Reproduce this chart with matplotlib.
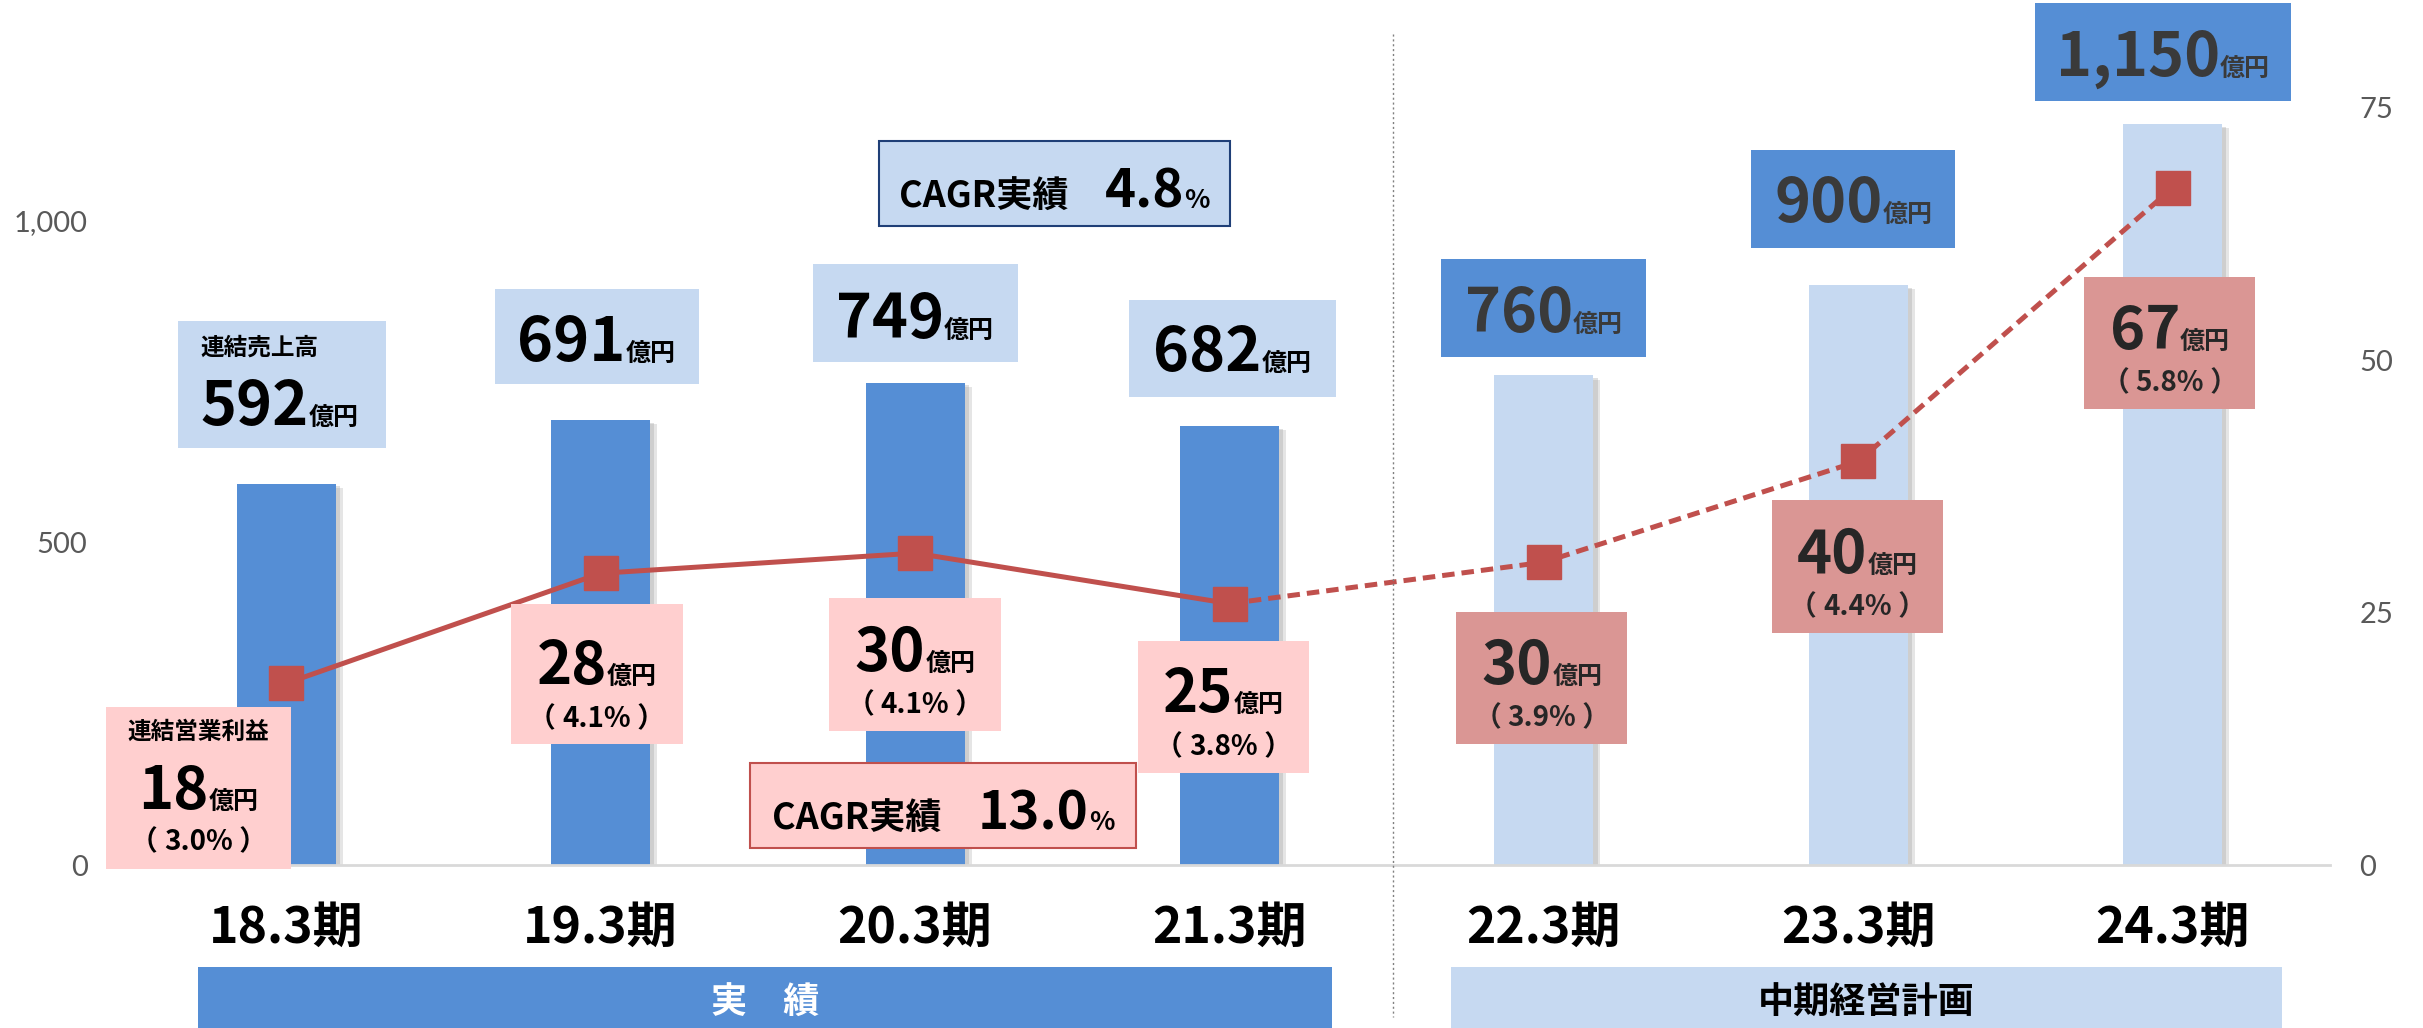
import matplotlib
matplotlib.use("Agg")
import matplotlib.pyplot as plt
import matplotlib.patheffects as pe
from matplotlib.patches import Rectangle
from matplotlib.lines import Line2D

plt.rcParams['font.family'] = ['Noto Sans CJK JP', 'DejaVu Sans']

# data
periods = ["18.3期", "19.3期", "20.3期", "21.3期", "22.3期", "23.3期", "24.3期"]
sales = [592, 691, 749, 682, 760, 900, 1150]
sales_text = ["592", "691", "749", "682", "760", "900", "1,150"]
profit = [18.0, 28.9, 30.9, 25.9, 30.0, 40.0, 67.1]
profit_text = ["18", "28", "30", "25", "30", "40", "67"]
margin_text = ["3.0%", "4.1%", "4.1%", "3.8%", "3.9%", "4.4%", "5.8%"]
n_actual = 4
cagr_sales = "4.8"
cagr_profit = "13.0"
left_ticks = [0, 500, 1000]
left_tick_text = ["0", "500", "1,000"]
right_ticks = [0, 25, 50, 75]

# label box layout (pixels, from top of image)
sales_top = [321, 289, 264, 300, 259, 150, 3]
sales_bot = [448, 384, 362, 397, 357, 248, 101]
sales_base = [425, 361, 338, 371, 332, 222, 76]
sales_w = [208, 204, 205, 207, 205, 204, 256]
sales_dx = [-4, -4, 0, 3, 0, -5, -10]
profit_top = [707, 604, 598, 641, 612, 500, 277]
profit_bot = [869, 744, 731, 773, 744, 633, 409]
profit_base = [809, 684, 671, 712, 684, 573, 349]
pct_mid = [842, 719, 705, 747, 718, 607, 383]
profit_w = [185, 172, 172, 171, 171, 171, 171]
profit_dx = [-88, -4, 0, -6, -2, -1, -3]

W, H = 2423, 1028
BLUE = "#558ED5"
PALE = "#C6D9F1"
RED = "#C0504D"
PINK = "#FFCFCF"
ROSE = "#DA9694"
DARK = "#3A3A3A"

fig = plt.figure(figsize=(W / 100, H / 100), dpi=100)
ax = fig.add_axes([107 / W, 163 / H, (2330 - 107) / W, 865 / H])
ax2 = ax.twinx()

x = list(range(len(periods)))
cols = [BLUE if i < n_actual else PALE for i in x]
bars = ax.bar(x, sales, width=0.315, color=cols, zorder=2)
for b in bars:
    b.set_path_effects([pe.SimplePatchShadow(offset=(5, -3), shadow_rgbFace="#9a9a9a", alpha=0.25),
                        pe.SimplePatchShadow(offset=(3, -2), shadow_rgbFace="#9a9a9a", alpha=0.3),
                        pe.Normal()])
ax.set_xlim(-0.57, 6.5)
ax.set_ylim(0, 1343)
ax2.set_ylim(0, 85.7)

ax2.plot(x[:n_actual], profit[:n_actual], color=RED, lw=3.6, solid_capstyle="butt")
ax2.plot(x[n_actual - 1:], profit[n_actual - 1:], color=RED, lw=3.6, dashes=(2.5, 1.4))
ax2.plot(x, profit, ls="none", marker="s", ms=24, color=RED)

for a in (ax, ax2):
    for s in a.spines.values():
        s.set_visible(False)
ax.spines["bottom"].set_visible(True)
ax.spines["bottom"].set_color("#D9D9D9")
ax.spines["bottom"].set_linewidth(2)

ax.set_yticks(left_ticks, left_tick_text)
ax2.set_yticks(right_ticks, [str(v) for v in right_ticks])
ax.tick_params(axis="y", length=0, pad=14, labelsize=21, labelcolor="#595959")
ax2.tick_params(axis="y", length=0, pad=21, labelsize=21, labelcolor="#595959")
for lbl in ax.get_yticklabels() + ax2.get_yticklabels():
    lbl.set_fontfamily(["Lato", "DejaVu Sans"])

ax.set_xticks(x, periods, fontsize=36, fontweight="bold")
ax.tick_params(axis="x", length=0, pad=27)

renderer = fig.canvas.get_renderer()


def cx_of(i):
    return ax.transData.transform((i, 0))[0]


def put_box(cx, top, bot, w, fc, ec="none", lw=0):
    fig.add_artist(Rectangle(((cx - w / 2) / W, 1 - bot / H), w / W, (bot - top) / H,
                             transform=fig.transFigure, fc=fc, ec=ec, lw=lw, zorder=5))


def put_runs(x0, base, parts, ha="center", va="baseline"):
    ts = [fig.text(0, 0, s, fontsize=fs, color=c, fontweight="bold", va=va, ha="left", zorder=6)
          for s, fs, c in parts]
    ws = [t.get_window_extent(renderer).width for t in ts]
    xx = x0 - sum(ws) / 2 if ha == "center" else x0
    for t, w in zip(ts, ws):
        t.set_position((xx / W, 1 - base / H))
        xx += w


# sales boxes
for i in x:
    fc = PALE if i < n_actual else BLUE
    tc = "black" if i < n_actual else DARK
    cx = cx_of(i) + sales_dx[i]
    put_box(cx, sales_top[i], sales_bot[i], sales_w[i], fc)
    parts = [(sales_text[i], 44, tc), ("億円", 18, tc)]
    if i == 0:
        left = cx - sales_w[i] / 2 + 22
        put_runs(left, 348, [("連結売上高", 17, tc)], ha="left", va="center")
        put_runs(left, sales_base[i], parts, ha="left")
    else:
        put_runs(cx, sales_base[i], parts)

# profit boxes
for i in x:
    fc = PINK if i < n_actual else ROSE
    tc = "black" if i < n_actual else "#262626"
    cx = cx_of(i) + profit_dx[i]
    put_box(cx, profit_top[i], profit_bot[i], profit_w[i], fc)
    if i == 0:
        put_runs(cx, 732, [("連結営業利益", 17, tc)], va="center")
    put_runs(cx, profit_base[i], [(profit_text[i], 43, tc), ("億円", 18, tc)])
    put_runs(cx, pct_mid[i], [("（ ", 20, tc), (margin_text[i], 20, tc), (" ）", 20, tc)], va="center")

# CAGR boxes
cx = cx_of(2.443)
put_box(cx, 141, 226, 351, PALE, ec="#1F3F77", lw=1.5)
put_runs(cx, 208, [("CAGR実績　", 26, "black"), (cagr_sales, 38, "black"), ("%", 19, "black")])
cx = cx_of(2.09)
put_box(cx, 763, 848, 386, PINK, ec=RED, lw=1.5)
put_runs(cx, 830, [("CAGR実績　", 26, "black"), (cagr_profit, 38, "black"), ("%", 19, "black")])

# divider between actual and plan
xd = cx_of(3.52) / W
fig.add_artist(Line2D([xd, xd], [1 - 34 / H, 1 - 1017 / H], transform=fig.transFigure,
                      color="#808080", lw=1, dashes=(1.5, 2), zorder=1))

# bottom banners
fig.add_artist(Rectangle((198 / W, 0), (1332 - 198) / W, (1028 - 967) / H,
                         transform=fig.transFigure, fc=BLUE, ec="none", zorder=5))
fig.add_artist(Rectangle((1451 / W, 0), (2282 - 1451) / W, (1028 - 967) / H,
                         transform=fig.transFigure, fc=PALE, ec="none", zorder=5))
put_runs((198 + 1332) / 2, 1003, [("実　績", 26, "white")], va="center")
put_runs((1451 + 2282) / 2, 1003, [("中期経営計画", 26, "black")], va="center")

fig.savefig("out.png", dpi=100)
